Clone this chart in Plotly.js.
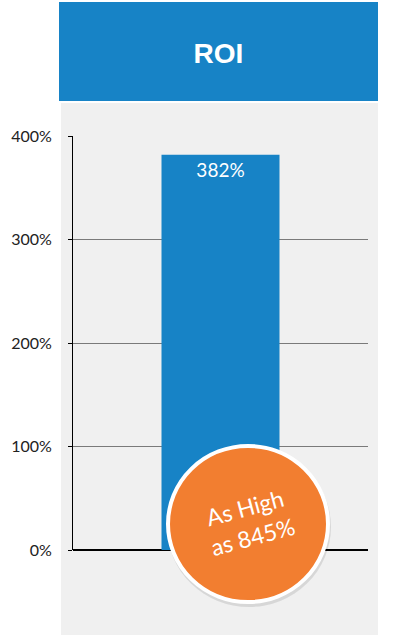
<!DOCTYPE html>
<html>
<head>
<meta charset="utf-8">
<script src="https://cdn.plot.ly/plotly-3.0.1.min.js"></script>
<style>html,body{margin:0;padding:0;background:#fff;}#chart{width:400px;height:640px;}</style>
</head>
<body>
<div id="chart"></div>
<script>
var categories = ['ROI'];
var roiValues = [382];
var roiLabels = ['382%'];
var tickValues = [0, 100, 200, 300, 400];
var tickLabels = ['0%', '100%', '200%', '300%', '400%'];
var highlightText = ['As High', 'as 845%'];

// plot area pixels: x 73..368, y 136..550
var L = 73, R = 368, T = 136, B = 550;
function px(x){ return (x - L) / (R - L); }
function py(y){ return (B - y) / (B - T); }

var trace = {
  type: 'bar',
  x: categories,
  y: roiValues,
  text: roiLabels,
  textposition: 'inside',
  insidetextanchor: 'end',
  textangle: 0,
  constraintext: 'none',
  textfont: {family: 'Lato, "Open Sans", sans-serif', size: 19, color: '#ffffff'},
  marker: {color: '#1783C6'},
  width: 0.4,
  hoverinfo: 'skip'
};

var layout = {
  width: 400, height: 640,
  margin: {l: L, r: 400 - R, t: T, b: 640 - B, pad: 0},
  paper_bgcolor: '#ffffff',
  plot_bgcolor: 'rgba(0,0,0,0)',
  showlegend: false,
  title: {
    text: '<b>ROI</b>',
    font: {family: '"Liberation Sans", Arial, sans-serif', size: 28, color: '#ffffff'},
    xref: 'paper', x: px(218.5), xanchor: 'center',
    yref: 'container', y: 1 - 53 / 640, yanchor: 'middle'
  },
  xaxis: {
    range: [-0.5, 0.5],
    showticklabels: false, showgrid: false, zeroline: false, showline: false, ticks: ''
  },
  yaxis: {
    range: [0, 400],
    tickvals: tickValues,
    ticktext: tickLabels,
    ticks: 'outside', ticklen: 4, tickcolor: '#000000', tickwidth: 1,
    ticklabelstandoff: 13,
    showline: true, linecolor: '#000000', linewidth: 1,
    showgrid: true, gridcolor: '#7a7a7a', gridwidth: 1,
    zeroline: true, zerolinecolor: '#000000', zerolinewidth: 1.5,
    tickfont: {family: 'Lato, "Open Sans", sans-serif', size: 16, color: '#222222'}
  },
  shapes: [
    {type: 'rect', xref: 'paper', yref: 'paper', layer: 'below',
     x0: px(61), x1: px(378), y0: py(635), y1: py(103),
     fillcolor: '#F0F0F0', line: {width: 0}},
    {type: 'rect', xref: 'paper', yref: 'paper', layer: 'below',
     x0: px(59), x1: px(378), y0: py(101), y1: py(2),
     fillcolor: '#1783C6', line: {width: 0}},
    {type: 'circle', xref: 'paper', yref: 'paper', layer: 'above',
     x0: px(167), x1: px(331), y0: py(447), y1: py(607),
     fillcolor: 'rgba(0,0,0,0.10)', line: {width: 0}},
    {type: 'circle', xref: 'paper', yref: 'paper', layer: 'above',
     x0: px(168), x1: px(328), y0: py(446), y1: py(602),
     fillcolor: '#F27E30', line: {color: '#ffffff', width: 4}}
  ],
  annotations: [
    {xref: 'paper', yref: 'paper', x: px(249), y: py(522),
     xanchor: 'center', yanchor: 'middle',
     text: highlightText.join('<br>'), showarrow: false, textangle: -15,
     font: {family: 'Lato, "Open Sans", sans-serif', size: 23, color: '#ffffff'},
     align: 'center'}
  ]
};

Plotly.newPlot('chart', [trace], layout, {displayModeBar: false, staticPlot: true});
</script>
</body>
</html>
